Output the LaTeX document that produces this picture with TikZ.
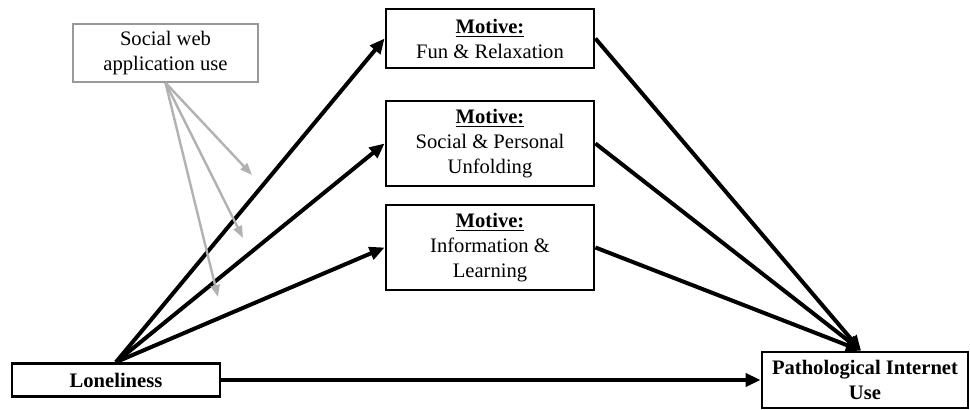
\documentclass[tikz,border=0pt]{standalone}
\usepackage{fontspec}
\setmainfont{Liberation Serif}
\usepackage[x11names]{xcolor}
\usetikzlibrary{calc, positioning, arrows.meta, backgrounds}
\newcommand\motive[1]{\textbf{\underline{Motive:}}\\#1}

\begin{document}
\begin{tikzpicture}[x=0.5pt,y=-0.5pt,
    background rectangle/.style={fill=white},show background rectangle,
    box/.style={draw,line width=1.4pt,align=center,inner sep=1pt,font=\fontsize{10.3}{12.5}\selectfont},
    greybox/.style={draw=gray!80,line width=0.8pt,align=center,inner sep=1pt,font=\fontsize{10.3}{12.5}\selectfont},
    path arrow/.style={line width=2pt,-{Triangle[length=7.5pt,width=6.5pt]}},
    mod arrow/.style={gray!60,line width=1.2pt,-{Triangle[length=6pt,width=4.5pt]}}]
            \useasboundingbox (0,0) rectangle (970,410);
            \node[box,minimum width=104pt,minimum height=16.5pt] (lone) at (116,380) {\textbf{Loneliness}};
            \node[box,minimum width=103pt,minimum height=28pt] (piu) at (865,380) {\textbf{Pathological Internet}\\\textbf{Use}};
            \node[box,minimum width=104pt,minimum height=29.5pt] (fun) at (490,38.5) {\motive{Fun \& Relaxation}};
            \node[box,minimum width=104pt,minimum height=42.5pt] (soc) at (490,143.5) {\motive{Social \& Personal\\Unfolding}};
            \node[box,minimum width=104pt,minimum height=42.5pt] (inf) at (490,247.5) {\motive{Information \&\\Learning}};
            \node[greybox,minimum width=92.5pt,minimum height=29pt] (web) at (165.5,53) {Social web\\application use};
            % free ends of the moderation arrows
            \coordinate (w1) at (252,175);
            \coordinate (w2) at (243,238);
            \coordinate (w3) at (218,297);
            \draw[path arrow] (lone.north) -- (fun.west);
            \draw[path arrow] (lone.north) -- (soc.west);
            \draw[path arrow] (lone.north) -- (inf.west);
            \draw[path arrow] (fun.east) -- ([xshift=-2pt]piu.north);
            \draw[path arrow] (soc.east) -- ([xshift=-2pt]piu.north);
            \draw[path arrow] (inf.east) -- ([xshift=-2pt]piu.north);
            \draw[path arrow] (lone.east) -- (piu.west);
            \foreach \w in {w1,w2,w3}{
              \draw[mod arrow] (web.south) -- (\w);
            }
\end{tikzpicture}
\end{document}
